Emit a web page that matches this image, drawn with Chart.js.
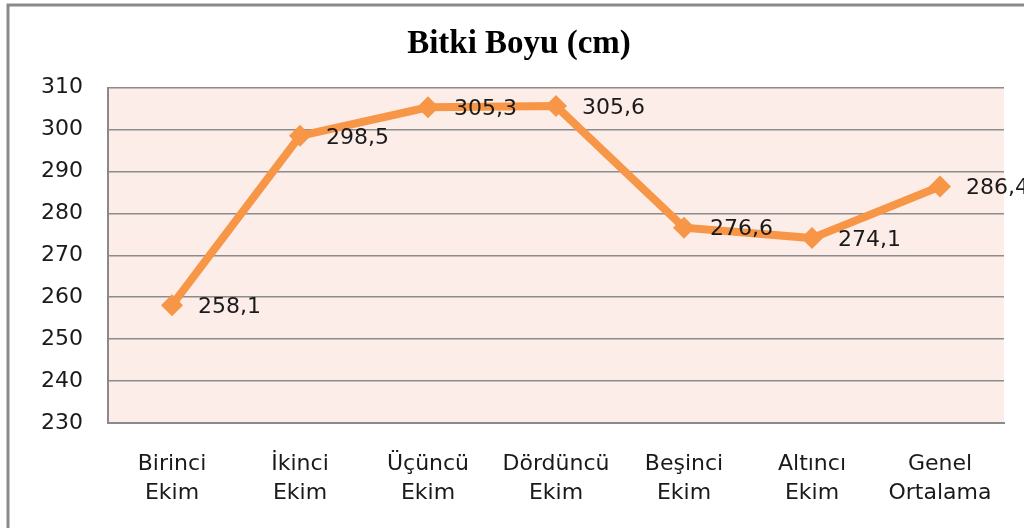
<!DOCTYPE html>
<html>
<head>
<meta charset="utf-8">
<script src="https://cdn.jsdelivr.net/npm/chart.js@4.4.0/dist/chart.umd.min.js"></script>
<style>
html,body{margin:0;padding:0;background:#fff;}
#wrap{width:1024px;height:528px;position:relative;}
</style>
</head>
<body>
<div id="wrap"><canvas id="c" width="1024" height="528"></canvas></div>
<script>
const categories = [["Birinci","Ekim"],["İkinci","Ekim"],["Üçüncü","Ekim"],["Dördüncü","Ekim"],["Beşinci","Ekim"],["Altıncı","Ekim"],["Genel","Ortalama"]];
const values = [258.1, 298.5, 305.3, 305.6, 276.6, 274.1, 286.4];
const yMin = 230, yMax = 310, yStep = 10;
const titleText = "Bitki Boyu (cm)";

const frame = {
  id: 'frame',
  beforeDraw(chart) {
    const {ctx, chartArea: a} = chart;
    ctx.save();
    ctx.fillStyle = '#fdede8';
    ctx.fillRect(a.left, a.top, a.right - a.left, a.bottom - a.top);
    ctx.strokeStyle = '#8a8a8a';
    ctx.lineWidth = 3;
    ctx.beginPath();
    ctx.moveTo(8, 528);
    ctx.lineTo(8, 5);
    ctx.lineTo(1024, 5);
    ctx.stroke();
    ctx.restore();
  }
};

const labelsPlugin = {
  id: 'vlabels',
  afterDatasetsDraw(chart) {
    const {ctx} = chart;
    const meta = chart.getDatasetMeta(0);
    ctx.save();
    ctx.font = '22px "DejaVu Sans"';
    ctx.fillStyle = '#1a1a1a';
    ctx.textAlign = 'left';
    ctx.textBaseline = 'middle';
    meta.data.forEach((pt, i) => {
      ctx.fillText(values[i].toFixed(1).replace('.', ','), pt.x + 26, pt.y + 2);
    });
    ctx.restore();
  }
};

new Chart(document.getElementById('c'), {
  type: 'line',
  data: {
    labels: categories,
    datasets: [{
      data: values,
      borderColor: '#f79646',
      backgroundColor: '#f79646',
      borderWidth: 8,
      pointStyle: 'rectRot',
      pointRadius: 11,
      pointHoverRadius: 11,
      pointBorderWidth: 0,
      tension: 0,
      clip: false
    }]
  },
  options: {
    responsive: false,
    animation: false,
    devicePixelRatio: 1,
    layout: { padding: { left: 34, right: 20, top: 0, bottom: 0 } },
    plugins: {
      legend: { display: false },
      tooltip: { enabled: false },
      title: {
        display: true,
        text: titleText,
        color: '#000',
        font: { family: '"Liberation Serif", "Times New Roman", serif', size: 33, weight: 'bold', lineHeight: 1.2 },
        padding: { top: 25, bottom: 23 }
      }
    },
    scales: {
      x: {
        offset: true,
        grid: { display: false, drawTicks: false },
        border: { display: true, color: '#8a8a8a', width: 2 },
        ticks: { color: '#1a1a1a', font: { family: '"DejaVu Sans"', size: 22, lineHeight: 1.3 }, padding: 27, maxRotation: 0, autoSkip: false },
        afterFit(scale) { scale.height = 105; }
      },
      y: {
        min: yMin, max: yMax,
        grid: { color: '#8c8c8c', lineWidth: 1.5, drawTicks: false },
        border: { display: true, color: '#8a8a8a', width: 2 },
        ticks: { stepSize: yStep, color: '#1a1a1a', font: { family: '"DejaVu Sans"', size: 22 }, padding: 25 },
        afterFit(scale) { scale.width = 74; }
      }
    }
  },
  plugins: [frame, labelsPlugin]
});
</script>
</body>
</html>
